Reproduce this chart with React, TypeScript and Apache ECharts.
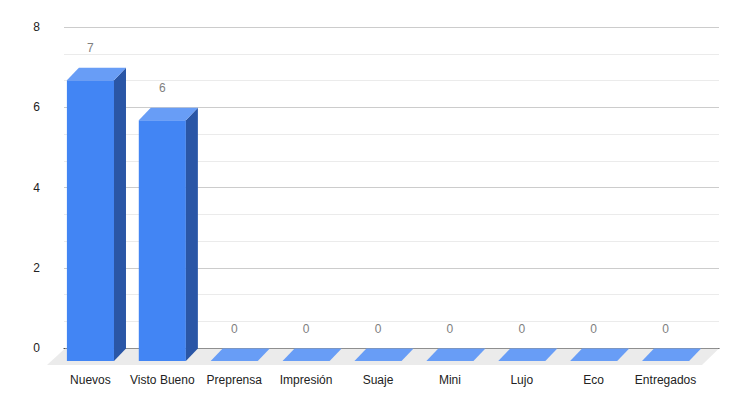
import React, { useEffect, useRef } from "react";
import * as echarts from "echarts";

const categories = ["Nuevos", "Visto Bueno", "Preprensa", "Impresión", "Suaje", "Mini", "Lujo", "Eco", "Entregados"];
const values = [7, 6, 0, 0, 0, 0, 0, 0, 0];
const yTicks = [0, 2, 4, 6, 8];

const FRONT = "#4285f4";
const SIDE = "#2a56a6";
const TOP = "#689df6";
const DX = 12;
const DY = 12.5;

export default function App() {
  const ref = useRef<HTMLDivElement>(null);
  useEffect(() => {
    if (!ref.current) return;
    const chart = echarts.init(ref.current, undefined, { renderer: "svg" });
    const font = "Arial, 'Liberation Sans', sans-serif";
    chart.setOption({
      animation: false,
      backgroundColor: "#ffffff",
      grid: [
        { left: 64, top: 27, width: 655, height: 321 },
        { left: 54.5, top: 40, width: 647, height: 321 },
      ],
      xAxis: [
        {
          gridIndex: 0,
          type: "category",
          data: categories,
          axisLine: { show: true, lineStyle: { color: "#333333", width: 1 } },
          axisTick: { show: false },
          axisLabel: { show: false },
          splitLine: { show: false },
        },
        {
          gridIndex: 1,
          type: "category",
          data: categories,
          axisLine: { show: false },
          axisTick: { show: false },
          axisLabel: { color: "#222222", fontSize: 12, fontFamily: font, margin: 13, interval: 0 },
          splitLine: { show: false },
        },
      ],
      yAxis: [
        {
          gridIndex: 0,
          type: "value",
          min: yTicks[0],
          max: yTicks[yTicks.length - 1],
          interval: 2,
          axisLine: { show: false },
          axisTick: { show: false },
          axisLabel: { color: "#222222", fontSize: 12, fontFamily: font, margin: 24 },
          splitLine: { show: true, lineStyle: { color: "#cccccc", width: 1 } },
          minorTick: { show: false, splitNumber: 3 },
          minorSplitLine: { show: true, lineStyle: { color: "#ebebeb", width: 1 } },
        },
        {
          gridIndex: 1,
          type: "value",
          min: 0,
          max: 8,
          show: false,
          splitLine: { show: false },
        },
      ],
      series: [
        {
          type: "custom",
          xAxisIndex: 1,
          yAxisIndex: 1,
          data: values.map((v, i) => [i, v]),
          z: 3,
          renderItem: (params: any, api: any) => {
            const idx = api.value(0);
            const v = api.value(1);
            const top = api.coord([idx, v]);
            const base = api.coord([idx, 0]);
            const bw = api.size([1, 0])[0] * 0.655;
            const left = top[0] - bw / 2;
            const right = left + bw;
            const children: any[] = [];
            if (params.dataIndex === 0) {
              const cs = params.coordSys;
              const by = cs.y + cs.height - DY;
              const fy = cs.y + cs.height + 4;
              children.push({
                type: "polygon",
                shape: {
                  points: [
                    [cs.x + 10.5, by],
                    [cs.x + cs.width + 17.5, by],
                    [cs.x + cs.width + 0.5, fy],
                    [cs.x - 7.5, fy],
                  ],
                },
                style: { fill: "#ebebeb" },
                z2: 0,
              });
            }
            if (v > 0) {
              children.push({
                type: "rect",
                shape: { x: left, y: top[1], width: bw, height: base[1] - top[1] },
                style: { fill: FRONT },
                z2: 2,
              });
              children.push({
                type: "polygon",
                shape: {
                  points: [
                    [right, top[1]],
                    [right + DX, top[1] - DY],
                    [right + DX, base[1] - DY],
                    [right, base[1]],
                  ],
                },
                style: { fill: SIDE },
                z2: 2,
              });
            }
            children.push({
              type: "polygon",
              shape: {
                points: [
                  [left, top[1]],
                  [left + DX, top[1] - DY],
                  [right + DX, top[1] - DY],
                  [right, top[1]],
                ],
              },
              style: { fill: TOP },
              z2: 2,
            });
            children.push({
              type: "text",
              style: {
                text: String(v),
                x: top[0],
                y: top[1] - DY - 19.5,
                align: "center",
                verticalAlign: "middle",
                fill: "#808080",
                fontSize: 12,
                fontFamily: font,
              },
              z2: 3,
            });
            return { type: "group", children };
          },
        },
      ],
    });
    return () => chart.dispose();
  }, []);
  return (
    <div
      ref={ref}
      style={{ position: "fixed", left: 0, top: 0, width: 740, height: 406, background: "#fff" }}
    />
  );
}
